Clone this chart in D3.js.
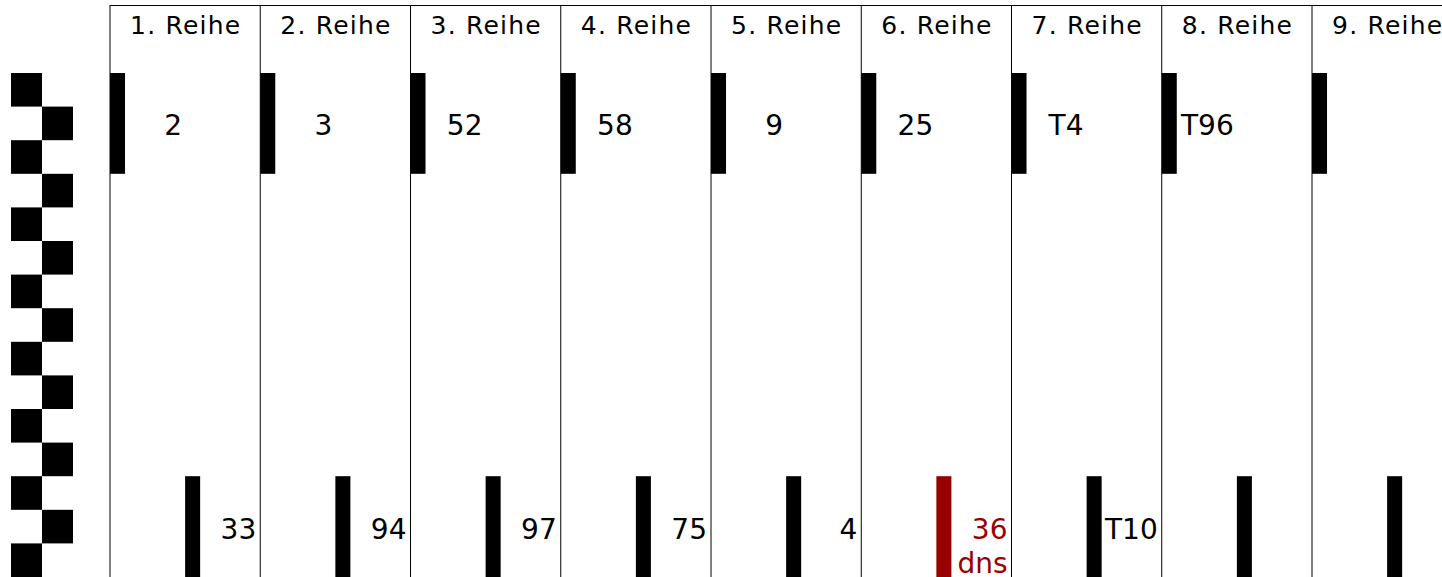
<!DOCTYPE html>
<html>
<head>
<meta charset="utf-8">
<script src="https://cdn.jsdelivr.net/npm/d3@7"></script>
<style>
  html, body { margin: 0; padding: 0; background: #fff; overflow: hidden; }
  svg { display: block; font-family: "DejaVu Sans", Verdana, sans-serif; }
</style>
</head>
<body>
<svg id="chart" width="1442" height="577"></svg>
<script>
// rows of the plan
const reihen = ["1. Reihe", "2. Reihe", "3. Reihe", "4. Reihe", "5. Reihe", "6. Reihe", "7. Reihe", "8. Reihe", "9. Reihe"];
// label next to the start (top) block
const startLabels = ["2", "3", "52", "58", "9", "25", "T4", "T96", ""];
// label next to the finish (bottom) block
const zielLabels = ["33", "94", "97", "75", "4", "36", "T10", "", ""];
const zielNotes = ["", "", "", "", "", "dns", "", "", ""];
const dnsFlags = [false, false, false, false, false, true, false, false, false];

const nSteps = 15;          // checker squares down the side
const startSpan = [0, 3];   // top block covers steps 0..2
const zielSpan = [12, 15];  // bottom block covers steps 12..14

const red = "#990000";

const svg = d3.select("#chart");

const x = d3.scaleBand()
    .domain(reihen)
    .range([110, 110 + 150.25 * reihen.length])
    .paddingInner(0);

const y = d3.scaleBand()
    .domain(d3.range(nSteps))
    .range([73, 577]);

const checkerX = d3.scaleBand()
    .domain([0, 1])
    .range([11, 73]);

const topY = 5;

// checker strip on the left
svg.append("g")
    .selectAll("rect")
    .data(d3.range(nSteps))
    .enter().append("rect")
    .attr("x", d => checkerX(d % 2))
    .attr("y", d => y(d))
    .attr("width", checkerX.bandwidth())
    .attr("height", y.bandwidth())
    .attr("fill", "#000");

// grid lines
svg.append("line")
    .attr("x1", x.range()[0]).attr("x2", 1442)
    .attr("y1", topY + 0.5).attr("y2", topY + 0.5)
    .attr("stroke", "#000").attr("stroke-width", 1);

svg.append("g")
    .selectAll("line")
    .data(reihen)
    .enter().append("line")
    .attr("x1", d => x(d)).attr("x2", d => x(d))
    .attr("y1", topY).attr("y2", 577)
    .attr("stroke", "#000").attr("stroke-width", 1);

// headers
svg.append("g")
    .selectAll("text")
    .data(reihen)
    .enter().append("text")
    .attr("x", d => x(d) + x.bandwidth() / 2 + 0.6)
    .attr("y", 34)
    .attr("text-anchor", "middle")
    .style("font-size", "25px")
    .style("letter-spacing", "1.2px")
    .attr("fill", "#000")
    .text(d => d);

const barW = x.bandwidth() * 0.1;

const cols = svg.append("g")
    .selectAll("g")
    .data(reihen.map((r, i) => ({
        reihe: r,
        start: startLabels[i],
        ziel: zielLabels[i],
        note: zielNotes[i],
        dns: dnsFlags[i]
    })))
    .enter().append("g");

// start blocks
cols.append("rect")
    .attr("x", d => x(d.reihe))
    .attr("y", y(startSpan[0]))
    .attr("width", barW)
    .attr("height", y(startSpan[1] - 1) + y.bandwidth() - y(startSpan[0]))
    .attr("fill", "#000");

cols.append("text")
    .attr("x", d => x(d.reihe) + 72)
    .attr("y", (y(startSpan[0]) + y(startSpan[1] - 1) + y.bandwidth()) / 2)
    .attr("dy", "0.41em")
    .attr("text-anchor", "end")
    .style("font-size", "28px")
    .attr("fill", "#000")
    .text(d => d.start);

// finish blocks
cols.append("rect")
    .attr("x", d => x(d.reihe) + x.bandwidth() / 2)
    .attr("y", y(zielSpan[0]))
    .attr("width", barW)
    .attr("height", y(zielSpan[1] - 1) + y.bandwidth() - y(zielSpan[0]))
    .attr("fill", d => d.dns ? red : "#000");

cols.append("text")
    .attr("x", d => x(d.reihe) + x.bandwidth() - 4)
    .attr("y", 539)
    .attr("text-anchor", "end")
    .style("font-size", "28px")
    .attr("fill", d => d.dns ? red : "#000")
    .text(d => d.ziel);

cols.append("text")
    .attr("x", d => x(d.reihe) + x.bandwidth() - 4)
    .attr("y", 573)
    .attr("text-anchor", "end")
    .style("font-size", "28px")
    .attr("fill", d => d.dns ? red : "#000")
    .text(d => d.note);
</script>
</body>
</html>
